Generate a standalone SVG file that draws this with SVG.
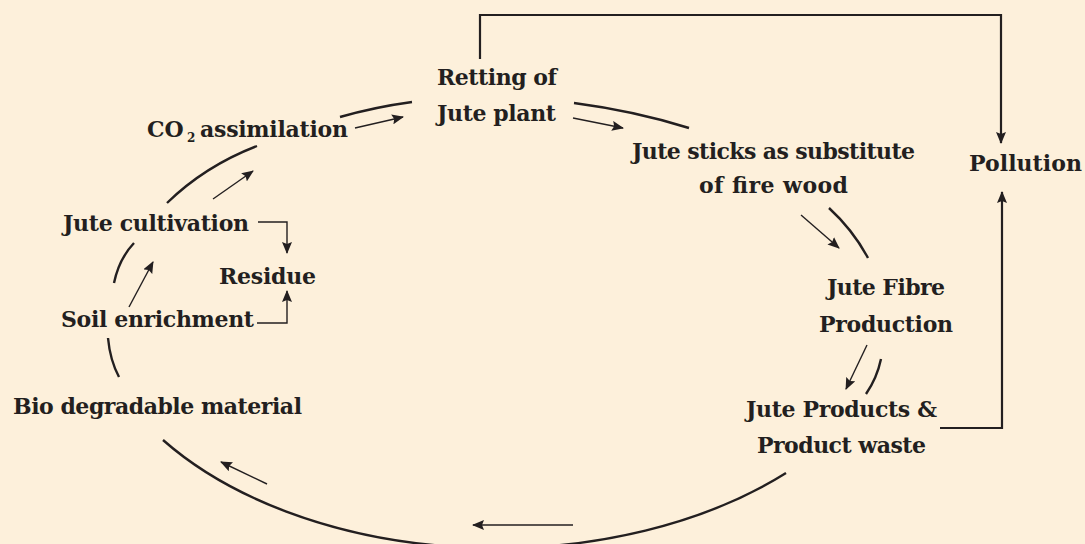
<svg xmlns="http://www.w3.org/2000/svg" width="1085" height="544" viewBox="0 0 1085 544">
<style>
.t{font-family:"DejaVu Serif","Liberation Serif",serif;font-weight:bold;font-size:22px;fill:#231f20}
.arc{fill:none;stroke:#231f20;stroke-width:2.4;stroke-linecap:butt}
.arr{fill:none;stroke:#231f20;stroke-width:1.4}
.con{fill:none;stroke:#231f20;stroke-width:2.2}
</style>
<defs>
<marker id="ah" markerUnits="userSpaceOnUse" markerWidth="12" markerHeight="10" refX="11" refY="5" orient="auto">
<path d="M0,0 L12,5 L0,10 L2,5 z" fill="#231f20"/>
</marker>
</defs>
<rect width="1085" height="544" fill="#fdf0db"/>
<g id="connectors">
<path class="arc" d="M134,243 Q119,259 114,283"/>
<path class="arc" d="M108,338 Q110,360 119,377"/>
<path class="arc" d="M167,203 Q205,166 257,146"/>
<path class="arc" d="M340,117 Q375,107 412,102"/>
<path class="arc" d="M574,103 Q635,111 689,128"/>
<path class="arc" d="M829,208 Q853,230 868,258"/>
<path class="arc" d="M881,359 Q877,378 866,394"/>
<path class="arc" d="M786,473 A410 258 0 0 1 163,440"/>
<path class="arr" d="M129,307 L153,262" marker-end="url(#ah)"/>
<path class="arr" d="M213,199 L253,171" marker-end="url(#ah)"/>
<path class="arr" d="M355,128 L403,117" marker-end="url(#ah)"/>
<path class="arr" d="M573,118 L623,128" marker-end="url(#ah)"/>
<path class="arr" d="M801,215 L839,248" marker-end="url(#ah)"/>
<path class="arr" d="M867,345 L846,389" marker-end="url(#ah)"/>
<path class="arr" d="M573,525 L473,525" marker-end="url(#ah)"/>
<path class="arr" d="M267,484 L221,462" marker-end="url(#ah)"/>
<path class="con" d="M480,59 V15 H1001 V143" marker-end="url(#ah)"/>
<path class="con" d="M940,428 H1002 V192" marker-end="url(#ah)"/>
<path class="arr" d="M258,222 H287 V253" marker-end="url(#ah)"/>
<path class="arr" d="M257,323 H287 V291" marker-end="url(#ah)"/>
</g>
<g id="retting"><text class="t" x="437" y="85" textLength="120">Retting of</text><text class="t" x="437" y="121" textLength="119">Jute plant</text></g>
<g id="co2"><text class="t"><tspan x="147" y="137">CO</tspan><tspan x="187" y="142" font-size="12">2</tspan><tspan x="200" y="137" textLength="148">assimilation</tspan></text></g>
<g id="cultivation"><text class="t" x="63" y="231" textLength="186">Jute cultivation</text></g>
<g id="residue"><text class="t" x="219" y="284" textLength="97">Residue</text></g>
<g id="soil"><text class="t" x="61" y="327" textLength="193">Soil enrichment</text></g>
<g id="bio"><text class="t" x="13" y="414" textLength="289">Bio degradable material</text></g>
<g id="sticks"><text class="t" x="632" y="159" textLength="283">Jute sticks as substitute</text><text class="t" x="699" y="193" textLength="149">of fire wood</text></g>
<g id="fibre"><text class="t" x="827" y="295" textLength="118">Jute Fibre</text><text class="t" x="819" y="332" textLength="134">Production</text></g>
<g id="products"><text class="t" x="746" y="417" textLength="191">Jute Products &amp;</text><text class="t" x="757" y="453" textLength="169">Product waste</text></g>
<g id="pollution"><text class="t" x="969" y="171" textLength="113">Pollution</text></g>
</svg>
